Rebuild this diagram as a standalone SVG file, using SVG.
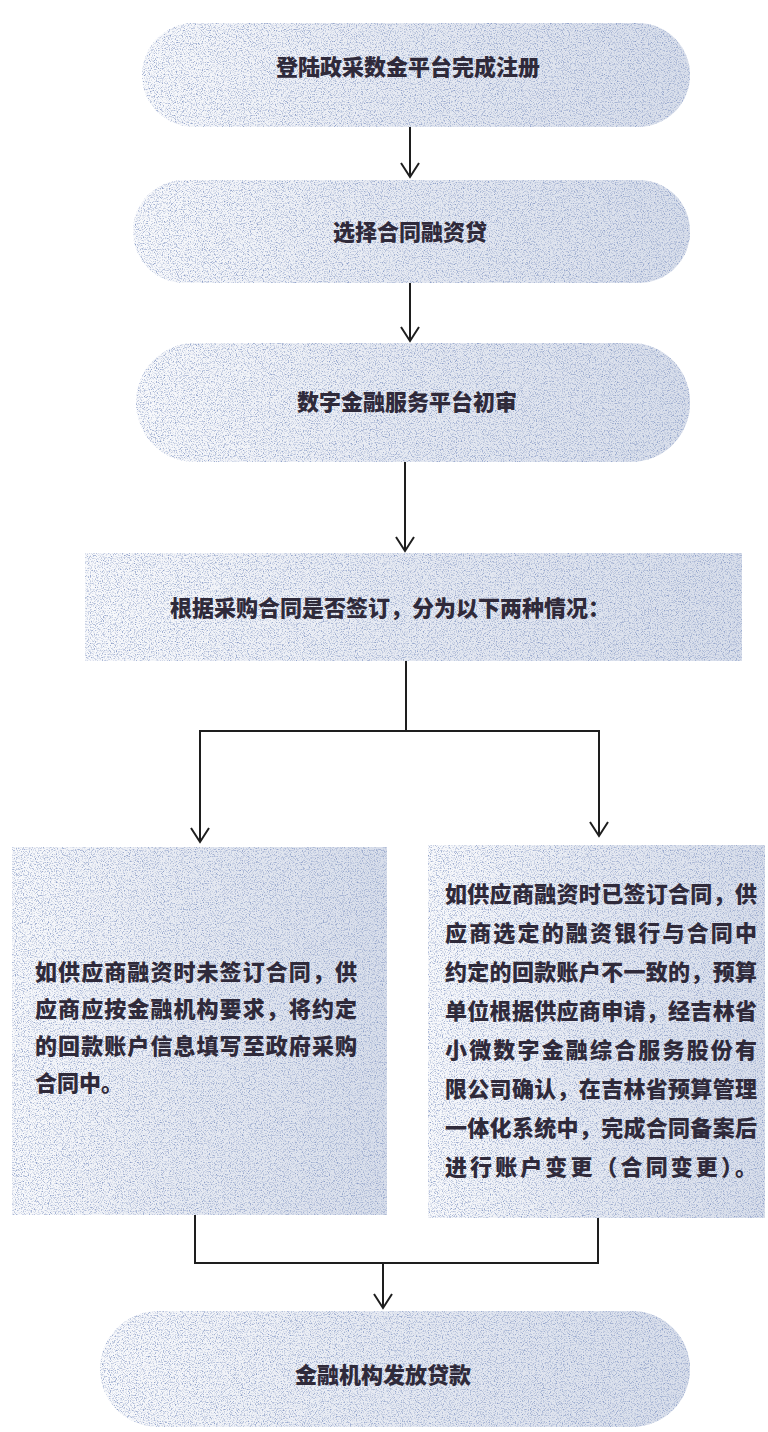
<svg xmlns="http://www.w3.org/2000/svg" width="768" height="1432" viewBox="0 0 768 1432">
<defs>
<style>
.t{font-family:"Noto Sans CJK SC","Noto Sans",sans-serif;font-weight:900;font-size:22px;fill:#2f2a3a;}
.c{text-anchor:middle;}
.base{fill:url(#g);}
.sp{fill:#000;filter:url(#speck);}
.ln{fill:none;stroke:#1e1e1e;stroke-width:2;}
</style>
<linearGradient id="g" x1="0" y1="0" x2="1" y2="0">
<stop offset="0" stop-color="#d3d9e8" stop-opacity="0.15"/>
<stop offset="0.45" stop-color="#c9d1e3" stop-opacity="0.45"/>
<stop offset="1" stop-color="#bec8dd" stop-opacity="0.6"/>
</linearGradient>
<filter id="speck" x="0" y="0" width="100%" height="100%" color-interpolation-filters="sRGB">
<feTurbulence type="fractalNoise" baseFrequency="0.85" numOctaves="2" seed="7" result="n"/>
<feColorMatrix in="n" type="matrix" values="0 0 0 0 0.55  0 0 0 0 0.62  0 0 0 0 0.78  3.0 0 0 0 -1.45" result="c"/>
<feComposite in="c" in2="SourceGraphic" operator="in"/>
</filter>
<marker id="arr" viewBox="-16 -10 18 20" refX="0" refY="0" markerWidth="18" markerHeight="20" markerUnits="userSpaceOnUse" orient="auto">
<path d="M-14,-9 L0,0 L-14,9" fill="none" stroke="#1e1e1e" stroke-width="2"/>
</marker>
</defs>
<rect width="768" height="1432" fill="#ffffff"/>

<g id="node1">
<rect class="base" x="142" y="23" width="548" height="104" rx="52"/>
<rect class="sp" x="142" y="23" width="548" height="104" rx="52"/>
<text class="t c" x="408" y="75">登陆政采数金平台完成注册</text>
</g>

<g id="node2">
<rect class="base" x="133" y="180" width="557" height="103" rx="51"/>
<rect class="sp" x="133" y="180" width="557" height="103" rx="51"/>
<text class="t c" x="410" y="240">选择合同融资贷</text>
</g>

<g id="node3">
<rect class="base" x="136" y="343" width="554" height="119" rx="59"/>
<rect class="sp" x="136" y="343" width="554" height="119" rx="59"/>
<text class="t c" x="407" y="410">数字金融服务平台初审</text>
</g>

<g id="node4">
<rect class="base" x="85" y="553" width="657" height="108"/>
<rect class="sp" x="85" y="553" width="657" height="108"/>
<text class="t c" x="390" y="616">根据采购合同是否签订，分为以下两种情况：</text>
</g>

<g id="node5">
<rect class="base" x="12" y="847" width="375" height="368"/>
<rect class="sp" x="12" y="847" width="375" height="368"/>
<text class="t" x="35" y="980" textLength="322" lengthAdjust="spacing">如供应商融资时未签订合同，供</text>
<text class="t" x="35" y="1017" textLength="322" lengthAdjust="spacing">应商应按金融机构要求，将约定</text>
<text class="t" x="35" y="1054" textLength="322" lengthAdjust="spacing">的回款账户信息填写至政府采购</text>
<text class="t" x="35" y="1091">合同中。</text>
</g>

<g id="node6">
<rect class="base" x="428" y="845" width="337" height="373"/>
<rect class="sp" x="428" y="845" width="337" height="373"/>
<text class="t" x="445" y="902" textLength="312" lengthAdjust="spacing">如供应商融资时已签订合同，供</text>
<text class="t" x="445" y="941" textLength="312" lengthAdjust="spacing">应商选定的融资银行与合同中</text>
<text class="t" x="445" y="980" textLength="312" lengthAdjust="spacing">约定的回款账户不一致的，预算</text>
<text class="t" x="445" y="1019" textLength="312" lengthAdjust="spacing">单位根据供应商申请，经吉林省</text>
<text class="t" x="445" y="1058" textLength="312" lengthAdjust="spacing">小微数字金融综合服务股份有</text>
<text class="t" x="445" y="1097" textLength="312" lengthAdjust="spacing">限公司确认，在吉林省预算管理</text>
<text class="t" x="445" y="1136" textLength="312" lengthAdjust="spacing">一体化系统中，完成合同备案后</text>
<text class="t" x="445" y="1175" textLength="312" lengthAdjust="spacing">进行账户变更（合同变更）。</text>
</g>

<g id="node7">
<rect class="base" x="100" y="1311" width="590" height="116" rx="58"/>
<rect class="sp" x="100" y="1311" width="590" height="116" rx="58"/>
<text class="t c" x="383" y="1383">金融机构发放贷款</text>
</g>

<g id="connectors">
<path class="ln" d="M410,127 V177" marker-end="url(#arr)"/>
<path class="ln" d="M410,283 V341" marker-end="url(#arr)"/>
<path class="ln" d="M405,462 V551" marker-end="url(#arr)"/>
<path class="ln" d="M406,661 V731 H200 V842" marker-end="url(#arr)"/>
<path class="ln" d="M406,731 H599 V836" marker-end="url(#arr)"/>
<path class="ln" d="M195,1215 V1263 H598 V1218"/>
<path class="ln" d="M383,1263 V1308" marker-end="url(#arr)"/>
</g>
</svg>
